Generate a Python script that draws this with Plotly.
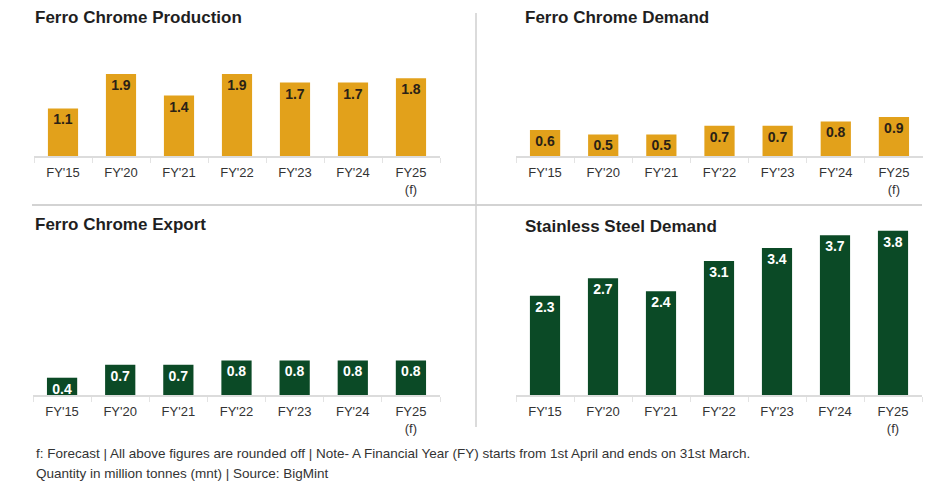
import plotly.graph_objects as go

W, H = 940, 484

categories = ["FY'15", "FY'20", "FY'21", "FY'22", "FY'23", "FY'24", "FY25<br>(f)"]
production = [1.1, 1.9, 1.4, 1.9, 1.7, 1.7, 1.8]
demand = [0.6, 0.5, 0.5, 0.7, 0.7, 0.8, 0.9]
export = [0.4, 0.7, 0.7, 0.8, 0.8, 0.8, 0.8]
ss_demand = [2.3, 2.7, 2.4, 3.1, 3.4, 3.7, 3.8]

titles = ["Ferro Chrome Production", "Ferro Chrome Demand",
          "Ferro Chrome Export", "Stainless Steel Demand"]
footnote1 = ("f: Forecast | All above figures are rounded off | Note- A Financial Year (FY) "
             "starts from 1st April and ends on 31st March.")
footnote2 = "Quantity in million tonnes (mnt) | Source: BigMint"

GOLD = "#E2A11B"
GREEN = "#0B4A26"
FONT = "Liberation Sans"

PX_PER_UNIT = 43.2

def px_x(p):
    return p / W

def px_y(p):
    return 1 - p / H

# panel geometry: (x0, x1, baseline px, yrange max)
panels = [
    (34, 440, 156, 3),
    (516, 923, 156, 3),
    (33, 440, 395, 4),
    (516, 922, 395, 4),
]
series = [production, demand, export, ss_demand]
colors = [GOLD, GOLD, GREEN, GREEN]
textcolors = ["#2a2116", "#2a2116", "#ffffff", "#ffffff"]
title_pos = [(33, 18), (523, 18), (33, 225), (523, 226)]

fig = go.Figure()
layout = {}
for i, ((x0, x1, base, rmax), vals, col, tcol) in enumerate(zip(panels, series, colors, textcolors)):
    n = "" if i == 0 else str(i + 1)
    fig.add_trace(go.Bar(
        x=categories, y=vals,
        xaxis="x" + n, yaxis="y" + n,
        marker=dict(color=col, line=dict(width=0)),
        text=[f"{v:.1f}" for v in vals],
        textposition="inside", insidetextanchor="end",
        constraintext="none",
        textfont=dict(family=FONT, size=14, color=tcol, weight="bold"),
        hoverinfo="skip", showlegend=False,
    ))
    top = base - rmax * PX_PER_UNIT
    layout["xaxis" + n] = dict(
        domain=[px_x(x0), px_x(x1)], anchor="y" + n,
        showline=True, linecolor="#dcdcdc", linewidth=1.5,
        ticks="outside", tickson="boundaries", ticklen=5, tickcolor="#e3e3e3",
        ticklabelstandoff=4,
        tickfont=dict(family=FONT, size=13, color="#333333"),
        showgrid=False, zeroline=False, fixedrange=True,
    )
    layout["yaxis" + n] = dict(
        domain=[px_y(base), px_y(top)], anchor="x" + n,
        range=[0, rmax], visible=False, showgrid=False, zeroline=False,
    )

annotations = []
for (tx, ty), t in zip(title_pos, titles):
    annotations.append(dict(
        x=px_x(tx), y=px_y(ty), xref="paper", yref="paper",
        xanchor="left", yanchor="middle", showarrow=False,
        text=f"<b>{t}</b>",
        font=dict(family=FONT, size=17, color="#1f1f1f"),
    ))
for txt, ty in [(footnote1, 453), (footnote2, 473)]:
    annotations.append(dict(
        x=px_x(34), y=px_y(ty), xref="paper", yref="paper",
        xanchor="left", yanchor="middle", showarrow=False,
        text=txt, font=dict(family=FONT, size=13.5, color="#333333"),
    ))

shapes = [
    dict(type="line", xref="paper", yref="paper",
         x0=px_x(32), x1=px_x(922), y0=px_y(205), y1=px_y(205),
         line=dict(color="#c4c4c4", width=1.5)),
    dict(type="line", xref="paper", yref="paper",
         x0=px_x(476), x1=px_x(476), y0=px_y(13), y1=px_y(427),
         line=dict(color="#cfcfcf", width=1.5)),
]

fig.update_layout(
    width=W, height=H,
    margin=dict(l=0, r=0, t=0, b=0),
    paper_bgcolor="white", plot_bgcolor="white",
    bargap=0.48,
    annotations=annotations, shapes=shapes,
    **layout,
)

fig.write_html(
    "out.html",
    config={"displayModeBar": False},
    post_script="document.body.style.margin='0';document.body.style.overflow='hidden';",
)
